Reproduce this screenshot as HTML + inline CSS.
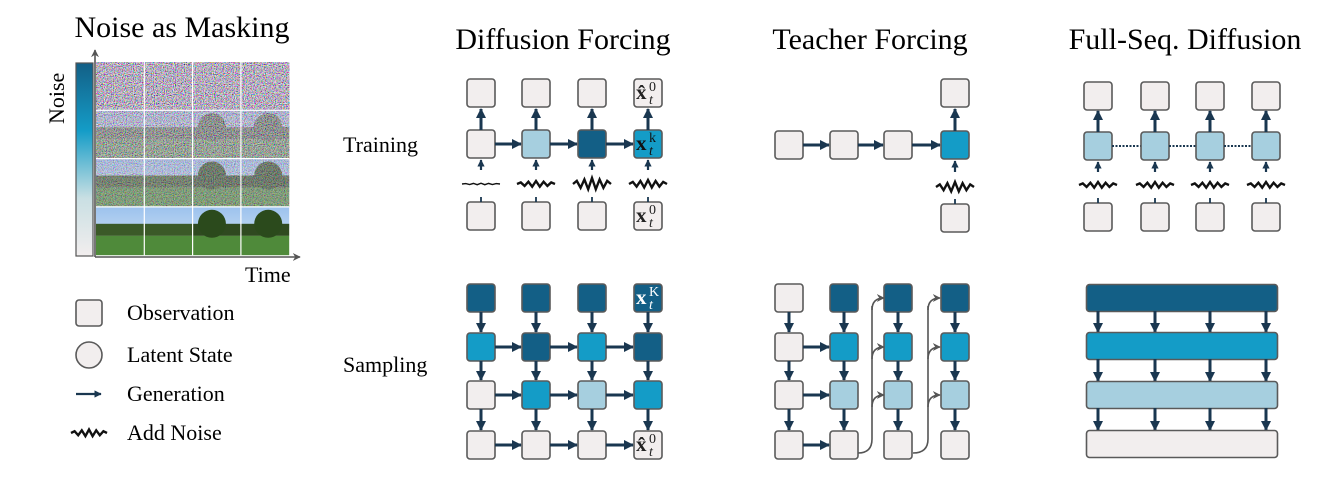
<!DOCTYPE html>
<html><head><meta charset="utf-8">
<style>
html,body{margin:0;padding:0;background:#fff;}
svg{display:block;font-family:"Liberation Serif",serif;}
</style></head>
<body>
<svg id="s" width="1341" height="479" viewBox="0 0 1341 479" xmlns="http://www.w3.org/2000/svg">
<defs>
<marker id="ah" viewBox="0 0 10 10" refX="9" refY="5" markerWidth="3.4" markerHeight="3.4" orient="auto-start-reverse" markerUnits="strokeWidth"><path d="M0,0 L10,5 L0,10 z" fill="#1a3750"/></marker>
<marker id="ahg" viewBox="0 0 10 10" refX="9" refY="5" markerWidth="5" markerHeight="5" orient="auto" markerUnits="strokeWidth"><path d="M0,0 L10,5 L0,10 L3,5 z" fill="#555"/></marker>
<linearGradient id="cb" x1="0" y1="0" x2="0" y2="1">
<stop offset="0" stop-color="#135f86"/><stop offset="0.35" stop-color="#149cc7"/><stop offset="0.7" stop-color="#c9dfe3"/><stop offset="1" stop-color="#f2eeee"/></linearGradient>
<filter id="nz" x="0" y="0" width="100%" height="100%"><feTurbulence type="fractalNoise" baseFrequency="0.9" numOctaves="2" seed="3"/><feColorMatrix type="matrix" values="2.2 0 0 0 -0.6  0 2.0 0 0 -0.55  0 0 2.2 0 -0.55  0 0 0 0 1"/></filter>
<linearGradient id="sky" x1="0" y1="0" x2="0" y2="1"><stop offset="0" stop-color="#9cc2ee"/><stop offset="1" stop-color="#b8d3f0"/></linearGradient>
</defs>
<g id="g"></g>
<g font-size="30" fill="#000">
<text x="182" y="37" text-anchor="middle">Noise as Masking</text>
<text x="563" y="49" text-anchor="middle">Diffusion Forcing</text>
<text x="870" y="49" text-anchor="middle">Teacher Forcing</text>
<text x="1185" y="49" text-anchor="middle">Full-Seq. Diffusion</text>
</g>
<g font-size="22">
<text x="343" y="152">Training</text>
<text x="343" y="372">Sampling</text>
<text x="245" y="282">Time</text>
<text transform="translate(64,124) rotate(-90)">Noise</text>
<text x="127" y="320">Observation</text>
<text x="127" y="362">Latent State</text>
<text x="127" y="401">Generation</text>
<text x="127" y="440">Add Noise</text>
</g>
</svg>
<script>
const g=document.getElementById('g');const NS='http://www.w3.org/2000/svg';
function el(t,a,txt){const e=document.createElementNS(NS,t);for(const k in a)e.setAttribute(k,a[k]);if(txt)e.textContent=txt;g.appendChild(e);return e;}
const C={L:'#f2eeee',B:'#a6cfdf',M:'#149cc7',D:'#135f86'};
function box(cx,cy,c,w,h){w=w||28;h=h||28;el('rect',{x:cx-w/2,y:cy-h/2,width:w,height:h,rx:3,fill:C[c],stroke:'#5a5a5a','stroke-width':1.6});}
function arr(x1,y1,x2,y2,w){el('line',{x1,y1,x2,y2,stroke:'#1a3750','stroke-width':w||3,'marker-end':'url(#ah)'});}
function zig(cx,cy,a,w){w=w||38;let d='M'+(cx-w/2)+','+cy;const n=10;for(let i=1;i<=n;i++){const x=cx-w/2+w*i/n;const amp=a*(1-Math.abs(i-n/2)/(n/2)*0.6);d+=' L'+x+','+(cy+(i%2?-amp:amp)*(i==n?0:1));}el('path',{d,fill:'none',stroke:'#111','stroke-width':a>2?2.4:1.4});}
function mathtxt(cx,cy,sup,hat,col){col=col||'#222';el('text',{x:cx-12,y:cy+6,'font-size':21,'font-weight':'bold',fill:col},hat?'x̂':'x');
el('text',{x:cx+1,y:cy-2,'font-size':14,fill:col},sup);el('text',{x:cx+1,y:cy+11,'font-size':14,fill:col,'font-style':'italic'},'t');}
// left panel
el('rect',{x:76,y:63,width:17,height:193,fill:'url(#cb)',stroke:'#555','stroke-width':1.2});
const gx=96,gy=62,cw=48.3,ch=48.3;
for(let r=0;r<4;r++)for(let c=0;c<4;c++){const x=gx+c*cw,y=gy+r*ch;
el('rect',{x,y,width:cw,height:ch*0.45,fill:'url(#sky)'});
el('rect',{x,y:y+ch*0.35,width:cw,height:ch*0.25,fill:c>=2?'#2f4a20':'#3b5a28'});
el('rect',{x,y:y+ch*0.6,width:cw,height:ch*0.4,fill:'#4f8a3a'});
if(c>=2)el('ellipse',{cx:x+cw*0.4+(c-2)*8,cy:y+ch*0.35,rx:14,ry:14,fill:'#2b4a1c'});
const op=[1,0.72,0.5,0][r];if(op>0)el('rect',{x,y,width:cw,height:ch,filter:'url(#nz)',opacity:op});}
for(let i=1;i<4;i++){el('line',{x1:gx+i*cw,y1:gy,x2:gx+i*cw,y2:gy+4*ch,stroke:'#fff','stroke-width':1.2});el('line',{x1:gx,y1:gy+i*ch,x2:gx+4*cw,y2:gy+i*ch,stroke:'#fff','stroke-width':1.2});}
el('line',{x1:95,y1:257,x2:95,y2:50,stroke:'#555','stroke-width':1.6,'marker-end':'url(#ahg)'});
el('line',{x1:95,y1:257,x2:300,y2:257,stroke:'#555','stroke-width':1.6,'marker-end':'url(#ahg)'});
// legend
box(89,313,'L',26,26);el('circle',{cx:89,cy:355,r:13,fill:C.L,stroke:'#5a5a5a','stroke-width':1.6});
arr(76,394,101,394,2.2);zig(89,433,3.5,36);
// DF training
const dx=[481,536,592,648];
dx.forEach((x,i)=>{box(x,93,'L');box(x,144,['L','B','D','M'][i]);box(x,216,'L');
arr(x,130,x,109,3);arr(x,170,x,160,2.2);el('line',{x1:x,y1:197,x2:x,y2:202,stroke:'#1a3750','stroke-width':1.8});
zig(x,184,[0.8,3,6,4][i]);if(i<3)arr(x+14,144,dx[i+1]-15,144,3);});
mathtxt(648,93,'0',true);mathtxt(648,216,'0');mathtxt(648,144,'k',false,'#111');
// DF sampling
const ry=[298,347,395,445];
const dcol=[['D','D','D','D'],['M','D','M','D'],['L','M','B','M'],['L','L','L','L']];
dx.forEach((x,i)=>{ry.forEach((y,r)=>{box(x,y,dcol[r][i]);if(r<3)arr(x,y+14,x,ry[r+1]-15,3);if(i<3&&r>0)arr(x+14,y,dx[i+1]-15,y,3);});});
mathtxt(648,298,'K',false,'#fff');mathtxt(648,445,'0',true);
// TF training
const tx=[789,844,898,955];
tx.forEach((x,i)=>{box(x,145,i==3?'M':'L');if(i<3)arr(x+14,145,tx[i+1]-15,145,3);});
box(955,93,'L');box(955,218,'L');arr(955,131,955,109,3);arr(955,172,955,161,2.2);zig(955,187,5);el('line',{x1:955,y1:199,x2:955,y2:204,stroke:'#1a3750','stroke-width':1.8});
// TF sampling
const tcol=[['L','D','D','D'],['L','M','M','M'],['L','B','B','B'],['L','L','L','L']];
tx.forEach((x,i)=>{ry.forEach((y,r)=>{box(x,y,tcol[r][i]);if(r<3)arr(x,y+14,x,ry[r+1]-15,3);});});
ry.forEach((y,r)=>{if(r>0)arr(803,y,829,y,3);});
[[858,872,884],[913,928,940]].forEach(([sx,vx,ex])=>{
el('path',{d:`M${sx},${ry[3]+8} Q${vx},${ry[3]+8} ${vx},${ry[3]-6} L${vx},${ry[0]+8}`,fill:'none',stroke:'#555','stroke-width':1.6});
ry.slice(0,3).forEach(y=>{el('path',{d:`M${vx},${y+12} Q${vx},${y} ${ex},${y}`,fill:'none',stroke:'#555','stroke-width':1.6,'marker-end':'url(#ahg)'});});});
// Full seq training
const fx=[1098,1155,1210,1266];
fx.forEach((x,i)=>{box(x,96,'L');box(x,146,'B');box(x,217,'L');arr(x,132,x,111,3);arr(x,172,x,162,2.2);zig(x,185,3);el('line',{x1:x,y1:198,x2:x,y2:203,stroke:'#1a3750','stroke-width':1.8});
if(i<3)el('line',{x1:x+14,y1:146,x2:fx[i+1]-14,y2:146,stroke:'#1a3750','stroke-width':2,'stroke-dasharray':'2,1.5'});});
const fy=[298,346,395,444],fc=['D','M','B','L'];
fy.forEach((y,r)=>{box(1182,y,fc[r],191,27);if(r<3)fx.forEach(x=>arr(x,y+13,x,fy[r+1]-14,3));});
</script>
</body></html>
